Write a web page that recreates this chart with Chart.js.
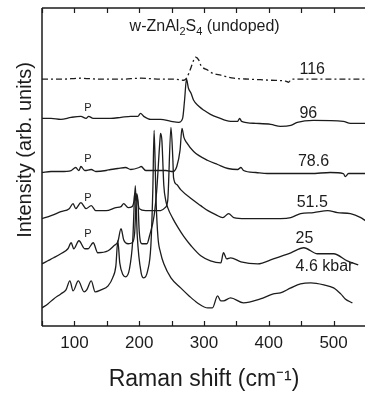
<!DOCTYPE html>
<html><head><meta charset="utf-8">
<script src="https://cdn.jsdelivr.net/npm/chart.js"></script>
<style>html,body{margin:0;padding:0;background:#fff;overflow:hidden}#wrap{width:365px;height:393px;overflow:hidden}</style>
</head><body>
<div id="wrap"><canvas id="c" width="373" height="393"></canvas></div>
<script>
// Raman shift (cm-1) and intensity (arb. units, stacked) for each pressure
const shift116 = [50,79,110,141,172,202.5,233,256.5,269,273,279.6,284,287,292,295,306,313,326,346,372,403,426,430.6,435,464.5,511,549];
const int116   = [246,246,247,246,246,247,246,246,245,247,257,265,268,265,260,255,252,250,247,246,245,244,243,246,246,246,246];

const shift96 = [50,64,79,95,110,118,122,129,141,156,172,187,198,202,207,218,233,249,261,267,270,273,276,280,284,292,300,310,321,341,352,355,358,380,403,418,434,444,469,515,526,549];
const int96   = [207,207,206,208,209,207,209,207,207,207,208,209,209,212,209,206,206,204,203,207,225,246,237,232,225,219,215,211,208,204,204,207,204,202,201,199,200,203,205,204,202,202];

const shift78 = [50,64,79,95,102,107,110,116,126,133,149,156,167,179,187,200,203,210,226,241,252,258,263,266,269,273,284,306,321,337,352,357,361,380,398,429,465,495,515,518,523,549];
const int78   = [153,154,154,155,158,155,159,155,156,154,155,156,157,158,156,158,159,155,155,155,154,159,175,197,188,183,174,165,161,157,156,158,155,153,152,152,152,153,152,149,152,152];

const shift51 = [50,64,79,92,98,102,110,118,126,133,149,164,172,176,183,189,192,193,195,196,200,210,221,233,240,244,249,252,253,258,264,280,295,306,318,329,338,346,364,387,418,434,449,469,491,506,526,542,549];
const int51   = [107,110,114,117,122,117,123,117,120,115,115,118,119,122,118,119,125,132,125,130,117,115,115,115,118,125,198,165,148,141,136,127,120,115,111,108,112,108,107,107,107,108,112,113,115,113,112,108,105];

const shift25 = [50,59,68,79,90,95,99,107,116,121,129,136,152,161,167,172,176,183,189,193,196,198,200,204,212,216,223,227,232,233,235,238,241,244,252,260,269,280,295,310,326,330,335,341,357,383,407,434,454,475,500,521,538];
const int25   = [62,65,68,72,77,83,77,85,77,77,83,73,75,80,84,97,86,82,83,93,132,125,95,82,82,90,110,135,185,192,185,140,125,118,107,98,89,80,70,65,63,73,67,68,64,62,67,73,78,72,72,65,61];

const shift46 = [50,59,68,79,87,93,98,106,115,119,126,132,141,152,159,164,167,170,175,179,185,190,194,197,203,207,213,218,221,223,226,229,233,238,249,264,277,290,306,313,321,326,330,341,361,387,407,418,434,449,465,485,500,511,518,529];
const int46   = [18,22,27,32,36,45,35,45,34,36,45,34,36,40,48,60,85,63,51,49,57,85,140,90,53,48,55,80,135,195,125,88,73,62,48,38,30,23,18,18,30,25,25,28,23,27,32,33,38,42,43,41,38,32,27,23];

const pressureLabels = ['116','96','78.6','51.5','25','4.6 kbar'];
const xTickValues = [100,200,300,400,500];

// annotation anchors (data coordinates)
const labelAnchorX = [467,461,469,467,455,486];
const labelAnchorY = [256,212,164,123,87,59];
const pAnchorX = 121;
const pAnchorY = [217,167,128,92];
const titleAnchor = {x:301, y:298};

const FONT = '"Liberation Sans", Arial, Helvetica, sans-serif';
const INK = '#1c1c1c';

const mk = (xs, ys) => xs.map((v,i)=>({x:v, y:ys[i]}));
const series = [
  {label:'116 kbar', xs:shift116, ys:int116, dash:[6,3,2,3]},
  {label:'96 kbar', xs:shift96, ys:int96},
  {label:'78.6 kbar', xs:shift78, ys:int78},
  {label:'51.5 kbar', xs:shift51, ys:int51},
  {label:'25 kbar', xs:shift25, ys:int25},
  {label:'4.6 kbar', xs:shift46, ys:int46}
];

const frame = {
  id:'frame',
  afterDatasetsDraw(chart){
    const {ctx, chartArea:a, scales:{x,y}} = chart;
    ctx.save();
    ctx.strokeStyle = INK;
    ctx.lineWidth = 1.5;
    ctx.beginPath();
    ctx.moveTo(a.left, a.top); ctx.lineTo(a.right, a.top);
    ctx.moveTo(a.left, a.top); ctx.lineTo(a.left, a.bottom);
    ctx.moveTo(a.left, a.bottom); ctx.lineTo(a.right, a.bottom);
    ctx.stroke();
    ctx.lineWidth = 1.2;
    ctx.beginPath();
    for (let v = x.min; v <= x.max; v += 50) {
      const px = Math.round(x.getPixelForValue(v)) + 0.5;
      ctx.moveTo(px, a.bottom); ctx.lineTo(px, a.bottom - 5);
      ctx.moveTo(px, a.top); ctx.lineTo(px, a.top + 5);
    }
    ctx.stroke();

    ctx.fillStyle = INK;
    ctx.textAlign = 'center';
    ctx.textBaseline = 'middle';
    ctx.font = '16px ' + FONT;
    pressureLabels.forEach((t,i)=>{
      ctx.fillText(t, x.getPixelForValue(labelAnchorX[i]), y.getPixelForValue(labelAnchorY[i]));
    });
    ctx.font = '11px ' + FONT;
    pAnchorY.forEach(v=> ctx.fillText('P', x.getPixelForValue(pAnchorX), y.getPixelForValue(v)));

    // title with subscripts
    const parts = [['w-ZnAl',0],['2',1],['S',0],['4',1],[' (undoped)',0]];
    const fMain = '16px ' + FONT, fSub = '11px ' + FONT;
    let w = 0;
    parts.forEach(p=>{ ctx.font = p[1]?fSub:fMain; w += ctx.measureText(p[0]).width; });
    let cx = x.getPixelForValue(titleAnchor.x) - w/2;
    const cy = y.getPixelForValue(titleAnchor.y);
    ctx.textAlign = 'left';
    parts.forEach(p=>{
      ctx.font = p[1]?fSub:fMain;
      ctx.fillText(p[0], cx, cy + (p[1]?5:0));
      cx += ctx.measureText(p[0]).width;
    });

    // y axis title
    ctx.save();
    ctx.translate(a.left - 17, a.top + 142);
    ctx.rotate(-Math.PI/2);
    ctx.textAlign = 'center';
    ctx.font = '20px ' + FONT;
    ctx.fillText('Intensity (arb. units)', 0, 0);
    ctx.restore();
    ctx.restore();
  }
};

new Chart(document.getElementById('c'), {
  type:'line',
  data:{
    datasets: series.map(s=>({
      label:s.label,
      data:mk(s.xs, s.ys),
      borderColor:INK,
      borderWidth:1.3,
      borderDash:s.dash||[],
      pointRadius:0,
      fill:false,
      cubicInterpolationMode:'monotone'
    }))
  },
  options:{
    responsive:false,
    animation:false,
    devicePixelRatio:1,
    layout:{padding:{left:42, top:8, right:0, bottom:0}},
    plugins:{legend:{display:false}, tooltip:{enabled:false}},
    scales:{
      x:{
        type:'linear', position:'bottom', min:50, max:550,
        grid:{display:false, drawTicks:false},
        border:{display:false},
        ticks:{
          stepSize:50, autoSkip:false, maxRotation:0, padding:7,
          color:INK, font:{family:FONT, size:17},
          callback:(v)=> xTickValues.includes(v) ? String(v) : ''
        },
        title:{display:true, text:'Raman shift (cm\u207B\u00B9)', color:INK,
               font:{family:FONT, size:23}, padding:{top:5, bottom:0}}
      },
      y:{type:'linear', display:false, min:0, max:317}
    }
  },
  plugins:[frame]
});
</script>
</body></html>
